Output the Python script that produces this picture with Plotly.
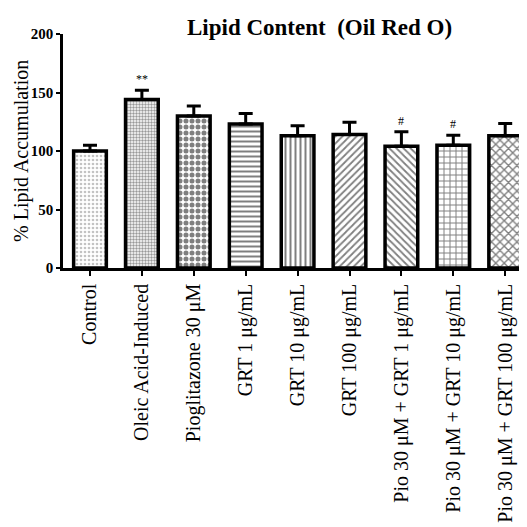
import plotly.graph_objects as go

categories = ["Control", "Oleic Acid-Induced", "Pioglitazone 30 μM", "GRT 1 μg/mL",
              "GRT 10 μg/mL", "GRT 100 μg/mL", "Pio 30 μM + GRT 1 μg/mL",
              "Pio 30 μM + GRT 10 μg/mL", "Pio 30 μM + GRT 100 μg/mL"]
means = [100, 144, 130, 123, 113, 114, 104, 105, 113]
err_top = [105, 152, 138.5, 132, 121.5, 124.5, 116.5, 113.5, 123.5]
sig = ["", "**", "", "", "", "", "#", "#", ""]
y_ticks = [0, 50, 100, 150, 200]

shapes = [".", ".", ".", "-", "|", "/", "\\", "+", "x"]
pat_sizes = [4, 3, 6, 5, 5, 5, 5, 6, 6]
pat_solid = [0.35, 0.5, 0.55, 0.4, 0.4, 0.35, 0.35, 0.3, 0.4]
pat_fg = ["#888888", "#333333", "black", "black", "black", "black", "black", "black", "black"]

x_idx = list(range(len(categories)))
fig = go.Figure()
fig.add_trace(go.Bar(
    x=x_idx, y=means, width=0.63,
    marker=dict(color="white", line=dict(color="black", width=3.5),
                pattern=dict(shape=shapes, size=pat_sizes, solidity=pat_solid,
                             fgcolor=pat_fg, bgcolor="white", fillmode="overlay")),
    error_y=dict(type="data", symmetric=False,
                 array=[e - m for e, m in zip(err_top, means)],
                 arrayminus=[0] * len(means),
                 color="black", thickness=3, width=7),
    showlegend=False,
))

for i, (s, e) in enumerate(zip(sig, err_top)):
    if s:
        fig.add_annotation(x=i, y=e, text=s, showarrow=False, yanchor="bottom", yshift=2,
                           font=dict(family="Liberation Serif", size=12, color="black"))

fig.add_annotation(x=0.5, y=1.0, xref="paper", yref="paper", xanchor="center",
                   yanchor="middle", yshift=7, xshift=24,
                   text="<b>Lipid Content  (Oil Red O)</b>", showarrow=False,
                   font=dict(family="Liberation Serif", size=23, color="black"))
fig.add_annotation(x=0, y=0.5, xref="paper", yref="paper", xanchor="center",
                   yanchor="middle", xshift=-42, textangle=-90,
                   text="% Lipid Accumulation", showarrow=False,
                   font=dict(family="Liberation Serif", size=20, color="black"))

fig.update_layout(
    width=519, height=519,
    margin=dict(l=55, r=0, t=26, b=259, autoexpand=False),
    plot_bgcolor="white", paper_bgcolor="white",
    font=dict(family="Liberation Serif", color="black"),
    xaxis=dict(range=[-0.52, 8.42], tickmode="array", tickvals=x_idx, ticktext=categories,
               tickangle=-90, showline=True, linecolor="black", linewidth=2.5,
               ticks="outside", ticklen=5, tickwidth=2, tickcolor="black",
               showgrid=False, zeroline=False, automargin=False,
               tickfont=dict(family="Liberation Serif", size=20, color="black")),
    yaxis=dict(range=[0, 200], tickvals=y_ticks, ticktext=[f"<b>{v}</b>" for v in y_ticks],
               showline=True, linecolor="black", linewidth=2.5,
               ticks="outside", ticklen=4, tickwidth=2, tickcolor="black",
               showgrid=False, zeroline=False, automargin=False,
               tickfont=dict(family="Liberation Serif", size=15, color="black")),
)

fig.write_html("out.html")
